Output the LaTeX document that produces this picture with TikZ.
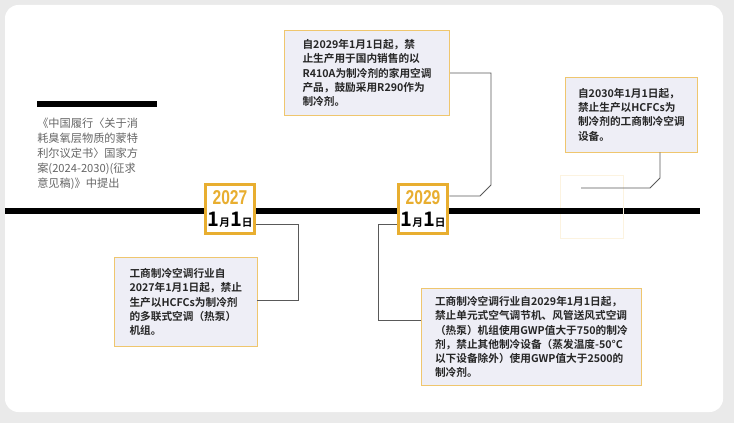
\documentclass[tikz,border=0pt]{standalone}
\usepackage{fontspec}
\setmainfont{Noto Sans CJK SC}
\newfontfamily\cjkb{Noto Sans CJK SC Bold}
\newfontfamily\cond[FakeStretch=0.78]{Liberation Sans Bold}
\definecolor{gold}{HTML}{E8AE30}
\definecolor{boxfill}{HTML}{EEEEF6}
\definecolor{bg}{HTML}{EAEAEA}
\tikzset{
 card/.style={draw=gold!70,line width=0.6pt,fill=boxfill,align=left,inner sep=6pt,anchor=north west,font=\cjkb\fontsize{8pt}{10.7pt}\selectfont,text=black!85},
 conn/.style={draw=black!65,line width=0.6pt},
 badge/.style={draw=gold,line width=2.4pt,fill=white,minimum width=37pt,minimum height=37pt,inner sep=0pt},
 yr/.style={inner sep=0pt,font=\cond\fontsize{15pt}{15pt}\selectfont,text=gold},
 dt/.style={inner sep=0pt,font=\cjkb\fontsize{15pt}{15pt}\selectfont}
}
\newcommand{\ddate}{1\fontsize{8pt}{8pt}\selectfont 月\fontsize{15pt}{15pt}\selectfont 1\fontsize{8pt}{8pt}\selectfont 日}
\begin{document}
\begin{tikzpicture}[x=0.75pt,y=-0.75pt]
\useasboundingbox (0,0) rectangle (734,423);
\fill[bg] (0,0) rectangle (734,423);
\fill[white,rounded corners=10pt] (5,5) rectangle (723,412);
% timeline
\draw[line width=4.5pt] (5,211) -- (700,211);
\draw[line width=4pt] (37,104) -- (157,104);
\node[anchor=north west,align=left,inner sep=0pt,text=black!60,font=\fontsize{8.4pt}{11.2pt}\selectfont] (intro) at (37,118) {《中国履行〈关于消\\耗臭氧层物质的蒙特\\利尔议定书〉国家方\\案(2024-2030)(征求\\意见稿)》中提出};
% badges
\node[badge] (b27) at (230,209) {};
\node[yr] (y27) at (230,198) {2027};
\node[dt] (d27) at (230,220) {\ddate};
\node[badge] (b29) at (423,209) {};
\node[yr] (y29) at (423,198) {2029};
\node[dt] (d29) at (423,220) {\ddate};
\node[draw=gold!15,fill=white,minimum width=47pt,minimum height=47pt] (ghost) at (592,207) {};
\draw[line width=4.5pt] (560,211) -- (623,211);
% text boxes
\node[card,minimum width=124pt,minimum height=64pt] (t29) at (284,30) {自2029年1月1日起，禁\\止生产用于国内销售的以\\R410A为制冷剂的家用空调\\产品，鼓励采用R290作为\\制冷剂。};
\node[card,minimum width=99pt,minimum height=56pt] (t30) at (565,77) {自2030年1月1日起，\\禁止生产以HCFCs为\\制冷剂的工商制冷空调\\设备。};
\node[card,minimum width=107pt,minimum height=67pt] (t27) at (114,257) {工商制冷空调行业自\\2027年1月1日起，禁止\\生产以HCFCs为制冷剂\\的多联式空调（热泵）\\机组。};
\node[card,minimum width=165pt,minimum height=73pt] (t29b) at (421,288) {工商制冷空调行业自2029年1月1日起，\\禁止单元式空气调节机、风管送风式空调\\（热泵）机组使用GWP值大于750的制冷\\剂，禁止其他制冷设备（蒸发温度-50°C\\以下设备除外）使用GWP值大于2500的\\制冷剂。};
% connectors
\draw[conn] (b27.east |- 0,224) -- (298,224) -- (298,300) -- (t27.east |- 0,300);
\draw[conn] (b29.west |- 0,224) -- (378,224) -- (378,320) -- (t29b.west |- 0,320);
\draw[conn] (t29.east |- 0,73) -- (491,73) -- (491,185) -- (480,196) -- (b29.east |- 0,196);
\draw[conn] (t30.south -| 660,0) -- (660,178) -- (650,188) -- (581,188);
\end{tikzpicture}
\end{document}
